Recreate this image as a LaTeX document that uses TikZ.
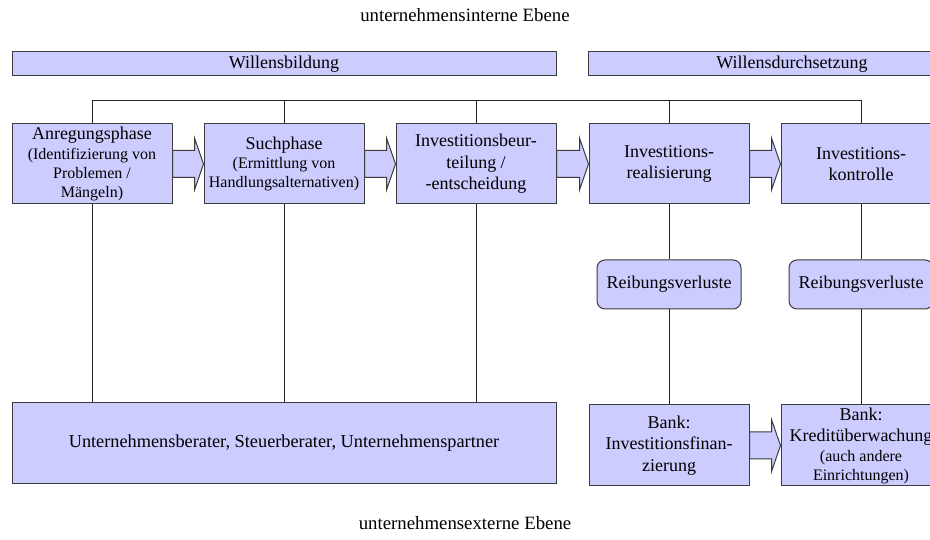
\documentclass[tikz,border=0pt]{standalone}
\usepackage{fontspec}
\setmainfont{Liberation Serif}
\usetikzlibrary{positioning,calc}

\definecolor{boxblue}{RGB}{204,204,255}
\definecolor{edgegray}{RGB}{60,60,60}
\newcommand{\mainsize}{\fontsize{18}{21.5}\selectfont}
\newcommand{\smallsize}{\fontsize{16}{19}\selectfont}

% block arrow from the east side of one node to the west side of the next
\newcommand{\blockarrow}[2]{%
  \filldraw[barrow] let \p1=(#1.east), \p2=(#2.west) in
    (\x1,\y1+13.5pt) -- (\x2-9pt,\y1+13.5pt) -- (\x2-9pt,\y1+26pt) -- (\x2,\y1)
    -- (\x2-9pt,\y1-26pt) -- (\x2-9pt,\y1-13.5pt) -- (\x1,\y1-13.5pt) -- cycle;}

\tikzset{
  phase/.style={draw=edgegray, line width=1pt, fill=boxblue, minimum width=160pt,
    minimum height=80pt, align=center, inner sep=1pt, font=\mainsize},
  level/.style={draw=edgegray, line width=1pt, fill=boxblue, minimum height=24pt,
    inner sep=0pt, font=\mainsize},
  loss/.style={phase, rounded corners=8pt, minimum width=144pt, minimum height=49pt},
  heading/.style={font=\fontsize{18.8}{22}\selectfont, inner sep=0pt},
  barrow/.style={draw=edgegray, line width=1pt, fill=boxblue},
  conn/.style={draw=black!85, line width=0.9pt}
}

\begin{document}
\begin{tikzpicture}[x=1pt,y=1pt]
\useasboundingbox (0,0) rectangle (930,540);
\clip (0,0) rectangle (930,540);

\node[heading] (intern) at (465,525) {unternehmensinterne Ebene};
\node[heading] (extern) at (465,17) {unternehmensexterne Ebene};

\node[level, minimum width=544pt] (wb) at (284,476) {Willensbildung};
\node[level, minimum width=408pt] (wd) at (792,476) {Willensdurchsetzung};

% phases
\node[phase] (a1) at (92,376) {Anregungsphase\\[-2pt]\smallsize(Identifizierung von\\[-2.5pt]\smallsize Problemen /\\[-2.5pt]\smallsize M\"angeln)};
\node[phase, right=31pt of a1] (a2) {Suchphase\\[-2pt]\smallsize(Ermittlung von\\[-2.5pt]\smallsize Handlungsalternativen)};
\node[phase, right=31pt of a2] (a3) {Investitionsbeur-\\teilung /\\-entscheidung};
\node[phase, right=32pt of a3] (a4) {Investitions-\\realisierung};
\node[phase, right=31pt of a4] (a5) {Investitions-\\kontrolle};

\node[loss, below=55pt of a4] (r1) {Reibungsverluste};
\node[loss, below=55pt of a5] (r2) {Reibungsverluste};

% external parties
\node[phase, minimum width=544pt, minimum height=81pt, font=\fontsize{18.3}{22}\selectfont] (ext) at (284,96.5) {Unternehmensberater, Steuerberater, Unternehmenspartner};
\node[phase, minimum height=81pt, below=95pt of r1] (b1) {Bank:\\Investitionsfinan-\\zierung};
\node[phase, minimum height=81pt, below=95pt of r2] (b2) {Bank:\\Kredit\"uberwachung\\[-2pt]\smallsize(auch andere\\[-2.5pt]\smallsize Einrichtungen)};

\blockarrow{a1}{a2}
\blockarrow{a2}{a3}
\blockarrow{a3}{a4}
\blockarrow{a4}{a5}
\blockarrow{b1}{b2}

% bus on top
\coordinate (bus) at (0,440);
\draw[conn] (a1.north) -- (a1.north |- bus) -- (a5.north |- bus) -- (a5.north);
\draw[conn] (a2.north) -- (a2.north |- bus);
\draw[conn] (a3.north) -- (a3.north |- bus);
\draw[conn] (a4.north) -- (a4.north |- bus);

% lines down
\draw[conn] (a1.south) -- (a1.south |- ext.north);
\draw[conn] (a2.south) -- (a2.south |- ext.north);
\draw[conn] (a3.south) -- (a3.south |- ext.north);
\draw[conn] (a4.south) -- (r1.north);
\draw[conn] (r1.south) -- (b1.north);
\draw[conn] (a5.south) -- (r2.north);
\draw[conn] (r2.south) -- (b2.north);
\end{tikzpicture}
\end{document}
